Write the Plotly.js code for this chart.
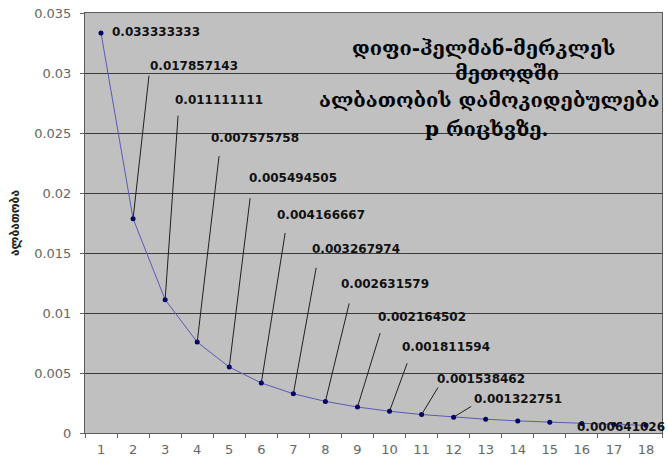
<!DOCTYPE html>
<html>
<head>
<meta charset="utf-8">
<script src="https://cdn.plot.ly/plotly-3.0.1.min.js"></script>
<style>html,body{margin:0;padding:0;background:#fff;}#chart{width:668px;height:460px;}</style>
</head>
<body>
<div id="chart"></div>
<script>
// ---- data ----
const pValues = ['1','2','3','4','5','6','7','8','9','10','11','12','13','14','15','16','17','18'];
const probability = [0.033333333, 0.017857143, 0.011111111, 0.007575758, 0.005494505, 0.004166667,
  0.003267974, 0.002631579, 0.002164502, 0.001811594, 0.001538462, 0.001322751,
  0.001149425, 0.001008065, 0.000891266, 0.000793651, 0.000711238, 0.000641026];
const labeledIdx = [0,1,2,3,4,5,6,7,8,9,10,11,17];
const yTitle = 'ალბათობა';
const titleLines = ['დიფი-ჰელმან-მერკლეს', 'მეთოდში', 'ალბათობის დამოკიდებულება', 'p რიცხვზე.'];

// ---- styling / placement (pixel offsets from each labelled point) ----
const textOffset = {0:[9,1],1:[15,153],2:[8,200],3:[12,204],4:[18,189],5:[14,168],6:[17,145],
  7:[14,117],8:[19,90],9:[10,64],10:[13,36],11:[18,18],17:[-71,-2]};
const leaderOffset = {1:[16,144],2:[13,185],3:[22,187],4:[21,170],5:[24,151],6:[23,127],
  7:[24,99],8:[23,75],9:[18,49],10:[17,28],11:[18,11]};
const titlePos = [[0.6915,0.916],[0.731,0.858],[0.7019,0.793],[0.697,0.724]];

const annotations = [];

labeledIdx.forEach(i => {
  const l = leaderOffset[i];
  if (l) {
    annotations.push({x: i, y: probability[i], xref:'x', yref:'y',
      text:' ', showarrow:true, arrowhead:0, arrowwidth:1, arrowcolor:'#202020',
      standoff:0, startstandoff:0, ax:l[0], ay:-l[1], axref:'pixel', ayref:'pixel',
      font:{size:1}, borderpad:0});
  }
  const o = textOffset[i];
  annotations.push({x: i, y: probability[i], xref:'x', yref:'y',
    text: probability[i].toFixed(9), showarrow:false, xanchor:'left', yanchor:'middle',
    xshift:o[0], yshift:o[1],
    font:{family:'DejaVu Sans', size:12, color:'#111', weight:'bold'}});
});

titleLines.forEach((t, k) => {
  annotations.push({x:titlePos[k][0], y:titlePos[k][1], xref:'paper', yref:'paper',
    text:t, showarrow:false, xanchor:'center', yanchor:'middle',
    font:{family:'DejaVu Serif, DejaVu Sans', size:20, color:'#000', weight:'bold'}});
});

const trace = {x:pValues, y:probability, type:'scatter', mode:'lines+markers',
  line:{color:'#5a5ab8', width:1},
  marker:{color:'#000066', size:5}, hoverinfo:'skip'};

const layout = {
  width:668, height:460,
  margin:{l:85, r:6, t:13, b:27, pad:0},
  paper_bgcolor:'#ffffff', plot_bgcolor:'#c0c0c0',
  showlegend:false,
  font:{family:'DejaVu Sans', size:13, color:'#666'},
  xaxis:{type:'category', range:[-0.5,17.5], tickson:'boundaries', ticks:'outside', ticklen:4,
    tickcolor:'#666', showgrid:false, showline:true, mirror:true, linecolor:'#5a5a5a', linewidth:1,
    zeroline:false, tickfont:{size:13, color:'#666'}, ticklabelstandoff:4, fixedrange:true},
  yaxis:{range:[0,0.035], dtick:0.005, tick0:0, ticks:'outside', ticklen:4, tickcolor:'#666',
    showgrid:true, gridcolor:'#3a3a3a', gridwidth:1, showline:true, mirror:true, linecolor:'#5a5a5a', linewidth:1,
    zeroline:false, tickfont:{size:13, color:'#666'}, ticklabelstandoff:6,
    title:{text:yTitle, font:{size:12, color:'#222', weight:'bold'}, standoff:11}, fixedrange:true},
  annotations
};

Plotly.newPlot('chart', [trace], layout, {displayModeBar:false});
</script>
</body>
</html>
